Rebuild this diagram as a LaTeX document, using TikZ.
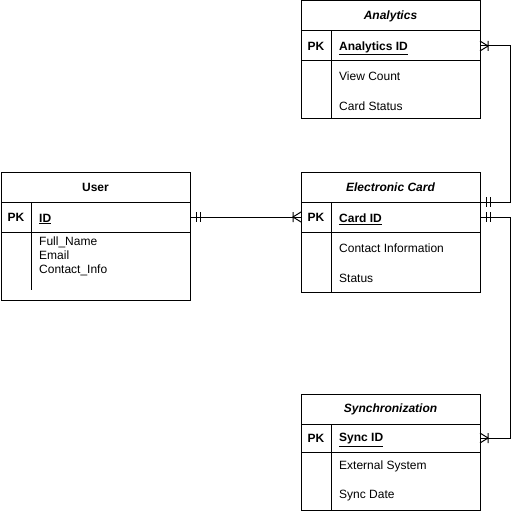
\documentclass[tikz,border=0pt]{standalone}
\usepackage{fontspec}
\setmainfont{Liberation Sans}
\usetikzlibrary{positioning}

\tikzset{
  entity/.style={draw, line width=1pt, minimum width=#1, inner sep=0pt, outer sep=0pt, anchor=north west},
  entity/.default=179pt,
  attr/.style={anchor=west, inner sep=0pt},
  conn/.style={line width=1pt},
  onemand/.pic={\draw[line width=1pt] (6,-5) -- (6,5) (10,-5) -- (10,5);},
  crowone/.pic={\draw[line width=1pt] (0,-5) -- (8,0) -- (0,5) (8,-5) -- (8,5);}
}

\begin{document}
\begin{tikzpicture}[x=1pt,y=-1pt,font=\fontsize{12}{14}\selectfont]
  \useasboundingbox (0,0) rectangle (520,511);

  % User
  \node[entity=189pt, minimum height=30pt] (user-head) at (1,172) {\bfseries User};
  \node[entity=189pt, minimum height=30pt, below=0pt of user-head] (user-pk) {};
  \node[entity=189pt, minimum height=68pt, below=0pt of user-pk] (user-body) {};
  \draw[line width=1pt] ([xshift=30pt]user-pk.north west) -- ([xshift=30pt,yshift=10pt]user-body.south west);
  \node (user-pk-lbl) at ([xshift=15pt]user-pk.west) {\bfseries PK};
  \node[attr] (user-pk-name) at ([xshift=38pt,yshift=-2pt]user-pk.west) {\bfseries\underline{ID}};
  \node[anchor=north west, align=left, inner sep=0pt] (user-attrs) at ([xshift=38pt,yshift=-5pt]user-body.north west) {Full\_Name\\Email\\Contact\_Info};

  % Analytics
  \node[entity, minimum height=30pt] (ana-head) at (301,1) {\bfseries\itshape Analytics};
  \node[entity, minimum height=30pt, below=0pt of ana-head] (ana-pk) {};
  \node[entity, minimum height=58pt, below=0pt of ana-pk] (ana-body) {};
  \draw[line width=1pt] ([xshift=30pt]ana-pk.north west) -- ([xshift=30pt]ana-body.south west);
  \node (ana-pk-lbl) at ([xshift=15pt]ana-pk.west) {\bfseries PK};
  \node[attr] (ana-pk-name) at ([xshift=38pt,yshift=-2pt]ana-pk.west) {\bfseries\underline{Analytics ID}};
  \node[attr] (ana-a1) at ([xshift=38pt,yshift=-15pt]ana-body.north west) {View Count};
  \node[attr] (ana-a2) at ([xshift=38pt,yshift=-45pt]ana-body.north west) {Card Status};

  % Electronic Card
  \node[entity, minimum height=30pt] (card-head) at (301,172) {\bfseries\itshape Electronic Card};
  \node[entity, minimum height=30pt, below=0pt of card-head] (card-pk) {};
  \node[entity, minimum height=60pt, below=0pt of card-pk] (card-body) {};
  \draw[line width=1pt] ([xshift=30pt]card-pk.north west) -- ([xshift=30pt]card-body.south west);
  \node (card-pk-lbl) at ([xshift=15pt]card-pk.west) {\bfseries PK};
  \node[attr] (card-pk-name) at ([xshift=38pt,yshift=-2pt]card-pk.west) {\bfseries\underline{Card ID}};
  \node[attr] (card-a1) at ([xshift=38pt,yshift=-16pt]card-body.north west) {Contact Information};
  \node[attr] (card-a2) at ([xshift=38pt,yshift=-46pt]card-body.north west) {Status};

  % Synchronization
  \node[entity, minimum height=30pt] (sync-head) at (301,394) {\bfseries\itshape Synchronization};
  \node[entity, minimum height=28pt, below=0pt of sync-head] (sync-pk) {};
  \node[entity, minimum height=58pt, below=0pt of sync-pk] (sync-body) {};
  \draw[line width=1pt] ([xshift=30pt]sync-pk.north west) -- ([xshift=30pt]sync-body.south west);
  \node (sync-pk-lbl) at ([xshift=15pt]sync-pk.west) {\bfseries PK};
  \node[attr] (sync-pk-name) at ([xshift=38pt,yshift=-2pt]sync-pk.west) {\bfseries\underline{Sync ID}};
  \node[attr] (sync-a1) at ([xshift=38pt,yshift=-14pt]sync-body.north west) {External System};
  \node[attr] (sync-a2) at ([xshift=38pt,yshift=-44pt]sync-body.north west) {Sync Date};

  % Relations
  \draw[conn] (user-pk.east) -- (card-pk.west);
  \pic at (user-pk.east) {onemand};
  \pic[rotate=180] at (card-pk.west) {crowone};

  \draw[conn] (card-head.south east) -- ++(30,0) |- (ana-pk.east);
  \pic at (card-head.south east) {onemand};
  \pic at (ana-pk.east) {crowone};

  \draw[conn] (card-pk.east) -- ++(30,0) |- (sync-pk.east);
  \pic at (card-pk.east) {onemand};
  \pic at (sync-pk.east) {crowone};
\end{tikzpicture}
\end{document}
